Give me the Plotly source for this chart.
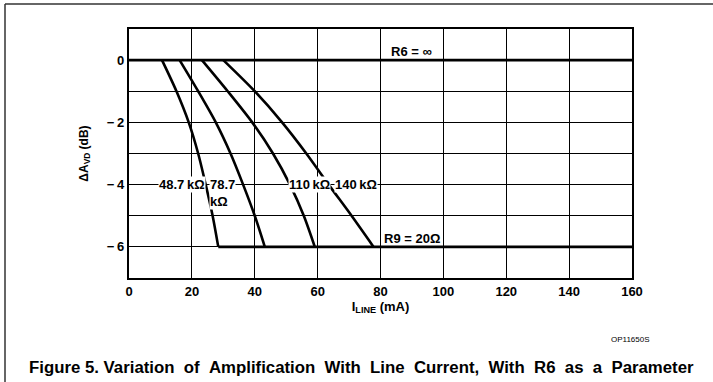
import plotly.graph_objects as go

# dB levels at which each curve was read
db_levels = [0, -1, -2, -3, -4, -5, -6]
# I_LINE (mA) for each R6 curve at those levels
i_48k7 = [10.5, 15.1, 19.0, 22.0, 24.4, 26.6, 28.4]
i_78k7 = [16.1, 22.0, 27.6, 32.3, 36.3, 40.0, 43.2]
i_110k = [23.2, 31.4, 39.2, 45.8, 51.2, 55.6, 59.1]
i_140k = [30.0, 40.0, 48.7, 56.4, 63.5, 70.8, 77.8]

# R6 = infinity line and R9 = 20 ohm limit line
inf_x = [0, 160]
inf_y = [0, 0]
r9_x = [28.4, 160]
r9_y = [-6, -6]

x_tickvals = [0, 20, 40, 60, 80, 100, 120, 140, 160]
x_ticktext = ["0", "20", "40", "60", "80", "100", "120", "140", "160"]
y_tickvals = [0, -2, -4, -6]
y_ticktext = ["0", "\u2212\u20092", "\u2212\u20094", "\u2212\u20096"]

FONT = "Liberation Sans"
W, H = 713, 382
L, R, T, B = 129, 81, 29, 104
pw, ph = W - L - R, H - T - B

def px(xp):
    return (xp - L) / pw

def py(yp):
    return (H - B - yp) / ph

fig = go.Figure()
line = dict(color="black", width=2.6)
for xs in [i_48k7, i_78k7, i_110k, i_140k]:
    fig.add_trace(go.Scatter(x=xs, y=db_levels, mode="lines",
                             line=dict(color="black", width=2.6, shape="spline", smoothing=0.8),
                             showlegend=False, hoverinfo="skip"))
fig.add_trace(go.Scatter(x=inf_x, y=inf_y, mode="lines", line=line, showlegend=False))
fig.add_trace(go.Scatter(x=r9_x, y=r9_y, mode="lines", line=line, showlegend=False))

lab_font = dict(family=FONT, size=13, color="black")
labels = [
    (16.8, -4, "<b>48.7\u2009k\u03a9</b>"),
    (57.5, -4, "<b>110\u2009k\u03a9</b>"),
    (72.2, -4, "<b>140\u2009k\u03a9</b>"),
    (89.8, 0.27, "<b>R6 = \u221e</b>"),
    (90.1, -5.74, "<b>R9 = 20\u03a9</b>"),
]
for x, y, t in labels:
    fig.add_annotation(x=x, y=y, text=t, showarrow=False, font=lab_font,
                       bgcolor="white" if y == -4 else "rgba(0,0,0,0)", borderpad=0)
fig.add_annotation(x=29.8, y=-4.0, text="<b>78.7<br>k\u03a9</b>", showarrow=False,
                   font=lab_font, bgcolor="white", borderpad=0, yanchor="top", yshift=9,
                   align="left")

fig.add_annotation(xref="paper", yref="paper", x=px(630), y=py(339),
                   xanchor="center", yanchor="middle",
                   text="OP11650S", showarrow=False,
                   font=dict(family=FONT, size=8, color="black"))
fig.add_annotation(xref="paper", yref="paper", x=px(361), y=py(367),
                   xanchor="center", yanchor="middle",
                   text="<b>Figure\u00a05.\u00a0Variation\u00a0\u00a0of\u00a0\u00a0Amplification\u00a0\u00a0With\u00a0\u00a0Line\u00a0\u00a0Current,\u00a0\u00a0With\u00a0\u00a0R6\u00a0\u00a0as\u00a0\u00a0a\u00a0\u00a0Parameter</b>",
                   showarrow=False, font=dict(family=FONT, size=16.8, color="black"))

# outer figure border (top and left edges)
fig.add_shape(type="line", xref="paper", yref="paper", x0=px(5), x1=px(713), y0=py(4), y1=py(4),
              line=dict(color="#333", width=1.5))
fig.add_shape(type="line", xref="paper", yref="paper", x0=px(5), x1=px(5), y0=py(4), y1=py(382),
              line=dict(color="#333", width=1.5))

fig.update_layout(
    width=W, height=H,
    margin=dict(l=L, r=R, t=T, b=B, autoexpand=False),
    paper_bgcolor="white", plot_bgcolor="white",
    font=dict(family=FONT, size=12, color="black"),
    xaxis=dict(range=[0, 160], tickvals=x_tickvals, ticktext=x_ticktext,
               showgrid=True, gridcolor="black", gridwidth=1.2,
               showline=True, linecolor="black", linewidth=2.2, mirror=True,
               ticks="", zeroline=False,
               tickfont=dict(family=FONT, size=13, color="black", weight="bold"),
               title=dict(text="<b>I<sub>LINE</sub> (mA)</b>", standoff=3,
                          font=dict(family=FONT, size=13))),
    yaxis=dict(range=[-7, 1], tickvals=y_tickvals, ticktext=y_ticktext,
               showgrid=True, gridcolor="black", gridwidth=1.2,
               minor=dict(dtick=1, tick0=0, showgrid=True, gridcolor="black", gridwidth=1.2, ticks=""),
               showline=True, linecolor="black", linewidth=2.2, mirror=True,
               ticks="", zeroline=False,
               tickfont=dict(family=FONT, size=13, color="black", weight="bold"),
               title=dict(text="<b>\u0394A<sub>VD</sub> (dB)</b>", standoff=16,
                          font=dict(family=FONT, size=12))),
)

fig.write_html("out.html", config={"displayModeBar": False},
               post_script="document.body.style.margin='0';")
